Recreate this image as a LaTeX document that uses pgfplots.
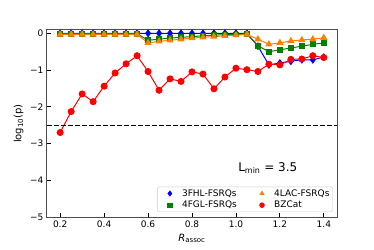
\documentclass[border=0pt]{standalone}
\usepackage{pgfplots}
\pgfplotsset{compat=1.18}
\usepackage{fontspec}
\setmainfont{DejaVu Sans}
\begin{document}
\begin{tikzpicture}
\begin{axis}[
  at={(0,0)}, anchor=south west,
  scale only axis, width=290pt, height=187pt,
  xmin=0.14, xmax=1.46, ymin=-5, ymax=0.09,
  xtick={0.2,0.4,0.6,0.8,1.0,1.2,1.4},
  xticklabels={0.2,0.4,0.6,0.8,1.0,1.2,1.4},
  ytick={-5,-4,-3,-2,-1,0},
  yticklabels={−5,−4,−3,−2,−1,0},
  tick align=inside, xtick pos=bottom, ytick pos=left,
  major tick length=4pt,
  tick style={black, line width=0.8pt},
  axis line style={black!70, line width=1pt},
  ticklabel style={font=\fontsize{9}{10}\selectfont},
  /pgf/number format/assume math mode=true,
  xlabel={\textit{R}\textsubscript{assoc}},
  ylabel={log\textsubscript{10}(p)},
  label style={font=\fontsize{10}{12}\selectfont},
  legend columns=2, transpose legend,
  legend cell align=left,
  legend image code/.code={\path (0pt,0pt) (21.3pt,0pt); \draw[mark repeat=2,mark phase=2,#1] plot coordinates {(0pt,0pt) (10.3pt,0pt) (21.3pt,0pt)};},
  legend style={at={(0.985,0.027)}, anchor=south east, font=\fontsize{9}{10.5}\selectfont,
    draw=black!20, rounded corners=2pt, inner xsep=2pt, inner ysep=2pt,
    nodes={inner xsep=1pt, inner ysep=0.5pt}, row sep=2.5pt,
    /tikz/every even column/.append style={column sep=13.7pt}},
]
\addplot[forget plot, blue, line width=1pt, mark=diamond*, mark size=3.2pt] coordinates {
(0.2,0) (0.25,0) (0.3,0) (0.35,0) (0.4,0) (0.45,0) (0.5,0) (0.55,0) (0.6,0) (0.65,0) (0.7,0) (0.75,0) (0.8,0) (0.85,0) (0.9,0) (0.95,0) (1.0,0) (1.05,0)
(1.1,-0.35) (1.15,-0.86) (1.2,-0.81) (1.25,-0.76) (1.3,-0.72) (1.35,-0.72) (1.4,-0.65)};
\addplot[forget plot, green!50!black, line width=1pt, mark=square*, mark size=2.4pt] coordinates {
(0.2,-0.01) (0.25,-0.01) (0.3,-0.01) (0.35,-0.01) (0.4,-0.01) (0.45,-0.01) (0.5,-0.01) (0.55,-0.01) (0.6,-0.19) (0.65,-0.16) (0.7,-0.13) (0.75,-0.11) (0.8,-0.09) (0.85,-0.07) (0.9,-0.05) (0.95,-0.04) (1.0,-0.03) (1.05,-0.02)
(1.1,-0.34) (1.15,-0.50) (1.2,-0.45) (1.25,-0.40) (1.3,-0.35) (1.35,-0.30) (1.4,-0.26)};
\addplot[forget plot, orange, line width=1pt, mark=triangle*, mark size=3.2pt] coordinates {
(0.2,-0.03) (0.25,-0.03) (0.3,-0.03) (0.35,-0.03) (0.4,-0.03) (0.45,-0.03) (0.5,-0.03) (0.55,-0.03) (0.6,-0.26) (0.65,-0.22) (0.7,-0.19) (0.75,-0.16) (0.8,-0.13) (0.85,-0.11) (0.9,-0.09) (0.95,-0.07) (1.0,-0.05) (1.05,-0.03)
(1.1,-0.16) (1.15,-0.30) (1.2,-0.26) (1.25,-0.21) (1.3,-0.18) (1.35,-0.16) (1.4,-0.12)};
\addplot[forget plot, red, line width=1pt, mark=*, mark size=3pt] coordinates {
(0.2,-2.70) (0.25,-2.13) (0.3,-1.65) (0.35,-1.86) (0.4,-1.44) (0.45,-1.08) (0.5,-0.83) (0.55,-0.61) (0.6,-1.04) (0.65,-1.55) (0.7,-1.24) (0.75,-1.31) (0.8,-1.05) (0.85,-1.11) (0.9,-1.51) (0.95,-1.19) (1.0,-0.95) (1.05,-0.99)
(1.1,-1.04) (1.15,-0.84) (1.2,-0.86) (1.25,-0.71) (1.3,-0.70) (1.35,-0.61) (1.4,-0.66)};
\addplot[forget plot, black, line width=1pt, dash pattern=on 5pt off 2pt] coordinates {(0.14,-2.5) (1.46,-2.5)};
\addlegendimage{only marks, blue, mark=diamond*, mark size=2.8pt}
\addlegendentry{3FHL-FSRQs}
\addlegendimage{only marks, green!50!black, mark=square*, mark size=2.2pt}
\addlegendentry{4FGL-FSRQs}
\addlegendimage{only marks, orange, mark=triangle*, mark size=2.6pt}
\addlegendentry{4LAC-FSRQs}
\addlegendimage{only marks, red, mark=*, mark size=2.5pt}
\addlegendentry{BZCat}
\node[font=\fontsize{12}{14}\selectfont] at (axis cs:1.145,-3.66) {L\textsubscript{min} = 3.5};
\end{axis}
\pgfresetboundingbox
\useasboundingbox (-47pt,-32pt) rectangle (327pt,217pt);
\end{tikzpicture}
\end{document}
